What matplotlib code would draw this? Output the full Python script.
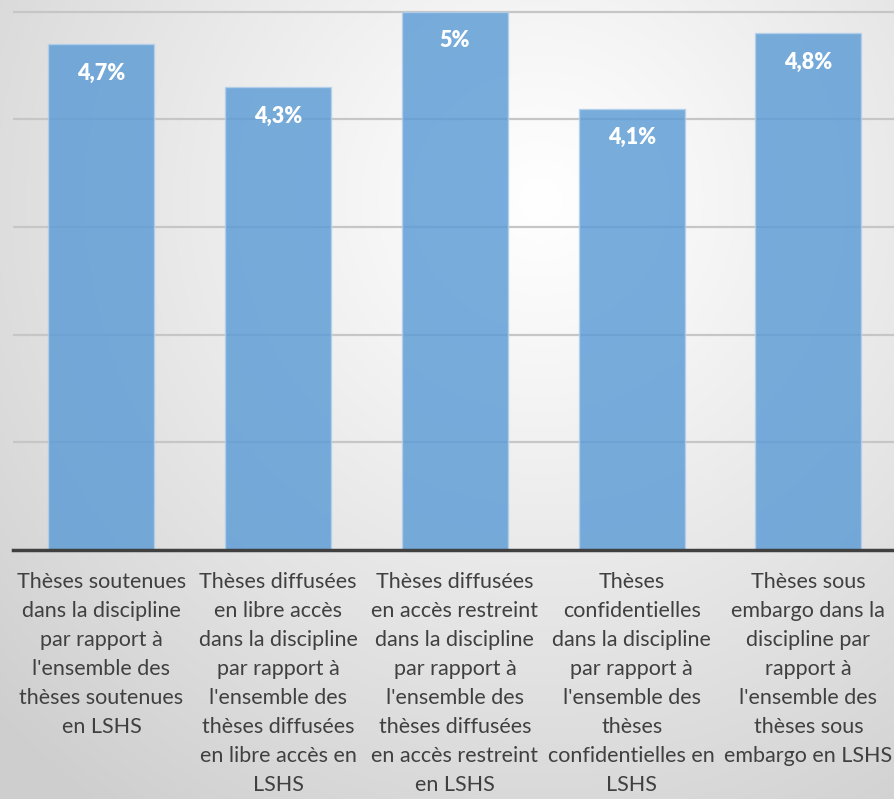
import numpy as np
import matplotlib.pyplot as plt

# données
categories = [
    "Thèses soutenues\ndans la discipline\npar rapport à\nl'ensemble des\nthèses soutenues\nen LSHS",
    "Thèses diffusées\nen libre accès\ndans la discipline\npar rapport à\nl'ensemble des\nthèses diffusées\nen libre accès en\nLSHS",
    "Thèses diffusées\nen accès restreint\ndans la discipline\npar rapport à\nl'ensemble des\nthèses diffusées\nen accès restreint\nen LSHS",
    "Thèses\nconfidentielles\ndans la discipline\npar rapport à\nl'ensemble des\nthèses\nconfidentielles en\nLSHS",
    "Thèses sous\nembargo dans la\ndiscipline par\nrapport à\nl'ensemble des\nthèses sous\nembargo en LSHS",
]
values = [4.7, 4.3, 5.0, 4.1, 4.8]
value_labels = ["4,7%", "4,3%", "5%", "4,1%", "4,8%"]

plt.rcParams['font.family'] = ['Lato', 'DejaVu Sans']

fig = plt.figure(figsize=(8.95, 7.99), dpi=100)

# fond dégradé radial
bg = fig.add_axes([0, 0, 1, 1], zorder=0)
h, w = 799, 895
yy, xx = np.mgrid[0:h, 0:w]
r = np.sqrt(((xx - 540) / 750.0) ** 2 + ((yy - 200) / 750.0) ** 2)
shade = 1.0 - 0.19 * np.clip(r, 0, 1) ** 1.1
img = np.dstack([shade, shade, shade])
bg.imshow(img, aspect='auto', extent=[0, 1, 0, 1], origin='upper')
bg.axis('off')

ax = fig.add_axes([13 / 895, 249 / 799, 1 - 13 / 895, 550 / 799], zorder=1)
ax.patch.set_alpha(0)

x = np.arange(len(values))
ax.bar(x, values, width=0.6, color='#5b9bd5', alpha=0.82,
       edgecolor='#b4d0ec', linewidth=1.0, zorder=3)

for i, v in enumerate(values):
    ax.text(i, v - 0.27, value_labels[i], ha='center', va='center',
            color='white', fontsize=15.5, fontweight='heavy', zorder=4)

ax.set_xlim(-0.5, 4.49)
ax.set_ylim(0, 5.11)
ax.set_yticks([1, 2, 3, 4, 5])
ax.yaxis.grid(True, color='#c6c6c6', linewidth=1.6, zorder=1)
ax.set_yticklabels([])
ax.tick_params(axis='y', length=0)
ax.tick_params(axis='x', length=0, pad=16)
ax.set_xticks(x)
ax.set_xticklabels(categories, fontsize=15.5, color='#404040',
                   linespacing=1.56, va='top', ha='center')

for s in ['top', 'right', 'left']:
    ax.spines[s].set_visible(False)
ax.spines['bottom'].set_color('#404040')
ax.spines['bottom'].set_linewidth(2.5)
ax.spines['bottom'].set_zorder(5)

fig.savefig('out.png', dpi=100)
